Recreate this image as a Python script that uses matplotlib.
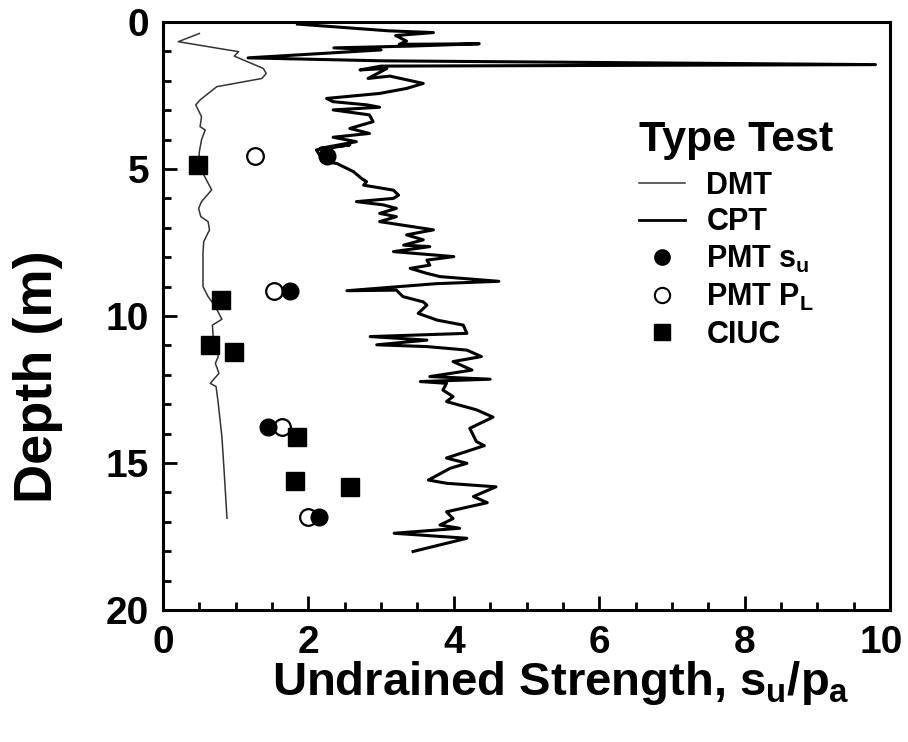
import matplotlib
matplotlib.use("Agg")
import matplotlib.pyplot as plt
import matplotlib.transforms as mtransforms
from matplotlib.lines import Line2D

plt.rcParams['font.family'] = ['Liberation Sans', 'DejaVu Sans']
plt.rcParams['font.weight'] = 'bold'
plt.rcParams['mathtext.fontset'] = 'custom'
plt.rcParams['mathtext.rm'] = 'Liberation Sans:bold'
plt.rcParams['mathtext.it'] = 'Liberation Sans:bold'
plt.rcParams['mathtext.bf'] = 'Liberation Sans:bold'

# ---- data ----
dmt_su = [0.50, 0.21, 1.04, 0.98, 1.38, 1.42, 1.36, 0.74, 0.51, 0.45, 0.53, 0.51, 0.58, 0.53,
          0.50, 0.49, 0.55, 0.67, 0.53, 0.49, 0.52, 0.62, 0.64, 0.56, 0.55, 0.55, 0.62, 0.72,
          0.81, 0.68, 0.69, 0.76, 0.72, 0.77, 0.65, 0.73, 0.76, 0.81, 0.84, 0.88]
dmt_depth = [0.39, 0.67, 1.01, 1.16, 1.58, 1.75, 1.92, 2.20, 2.65, 2.82, 3.22, 3.56, 3.67, 4.01,
             4.41, 4.81, 5.15, 5.71, 6.11, 6.34, 6.62, 6.79, 7.07, 7.47, 7.87, 9.00, 9.34, 9.68,
             10.11, 10.31, 10.70, 11.38, 11.61, 11.95, 12.29, 12.40, 12.97, 14.10, 15.24, 16.88]

cpt_su = [1.85, 3.10, 3.72, 3.20, 3.35, 3.25, 4.35, 3.40, 2.35, 3.00, 1.17, 3.00, 9.80, 3.00,
          2.71, 3.08, 2.82, 3.12, 3.58, 3.35, 2.98, 2.25, 2.34, 2.81, 2.98, 2.34, 2.84, 2.89,
          2.57, 2.84, 2.34, 2.66, 2.16, 2.57, 2.11, 2.21, 2.39, 2.62, 2.73, 2.80, 2.76, 3.17,
          3.24, 3.17, 2.66, 3.03, 3.21, 2.98, 3.21, 2.98, 3.72, 3.35, 3.58, 3.31, 3.67, 3.17,
          4.00, 3.63, 3.67, 3.40, 3.63, 3.81, 4.62, 3.76, 2.53, 3.21, 3.30, 3.58, 3.63, 3.51,
          3.77, 4.13, 4.18, 2.85, 3.63, 2.94, 3.63, 4.18, 4.38, 3.99, 4.25, 3.67, 4.50, 3.54,
          3.90, 3.85, 3.99, 3.90, 4.31, 4.54, 4.22, 4.31, 4.42, 3.90, 4.18, 3.95, 3.65, 3.90,
          4.58, 4.27, 4.46, 3.90, 3.99, 3.81, 4.08, 3.18, 4.18, 3.44]
cpt_depth = [0.07, 0.30, 0.36, 0.46, 0.65, 0.76, 0.74, 0.82, 0.88, 0.95, 1.22, 1.32, 1.45, 1.50,
             1.63, 1.58, 1.92, 1.84, 2.09, 2.26, 2.43, 2.60, 2.71, 2.82, 2.90, 2.99, 3.16, 3.39,
             3.62, 3.79, 3.92, 4.07, 4.30, 4.18, 4.35, 4.75, 4.81, 5.09, 5.32, 5.43, 5.55, 5.72,
             5.89, 6.00, 6.11, 6.22, 6.34, 6.51, 6.62, 6.79, 7.07, 7.24, 7.41, 7.59, 7.64, 7.81,
             7.98, 8.10, 8.27, 8.38, 8.55, 8.66, 8.82, 8.90, 9.14, 9.12, 9.34, 9.52, 9.63, 9.91,
             10.14, 10.31, 10.59, 10.70, 10.82, 10.98, 11.04, 11.16, 11.38, 11.55, 11.84, 12.06, 12.15, 12.23,
             12.29, 12.52, 12.74, 12.91, 13.19, 13.44, 13.82, 14.27, 14.41, 14.83, 15.01, 15.18, 15.58, 15.69,
             15.81, 16.14, 16.35, 16.66, 16.89, 17.11, 17.22, 17.39, 17.56, 18.01]

pmt_su_val = [2.25, 1.75, 1.44, 2.14]
pmt_su_depth = [4.55, 9.15, 13.77, 16.83]
pmt_pl_val = [1.27, 1.53, 1.64, 2.00]
pmt_pl_depth = [4.55, 9.15, 13.77, 16.83]
ciuc_val = [0.48, 0.80, 0.65, 0.97, 1.84, 1.81, 2.57]
ciuc_depth = [4.86, 9.46, 10.98, 11.24, 14.10, 15.60, 15.80]

xticks = [0, 2, 4, 6, 8, 10]
yticks = [0, 5, 10, 15, 20]

fig = plt.figure(figsize=(9.08, 7.42), dpi=100)
ax = fig.add_axes([163/908, 1-610/742, 727/908, 588/742])

l_dmt, = ax.plot(dmt_su, dmt_depth, color='#333333', lw=1.1, label='DMT')
l_cpt, = ax.plot(cpt_su, cpt_depth, color='black', lw=2.2, label='CPT')
l_pl, = ax.plot(pmt_pl_val, pmt_pl_depth, 'o', ms=12, mfc='white', mec='black', mew=1.6,
                ls='none', label='PMT $P_L$', zorder=4)
l_su, = ax.plot(pmt_su_val, pmt_su_depth, 'o', ms=12, mfc='black', mec='black',
                ls='none', label='PMT $s_u$', zorder=5)
l_ci, = ax.plot(ciuc_val, ciuc_depth, 's', ms=13, mfc='black', mec='black',
                ls='none', label='CIUC', zorder=5)

ax.set_xlim(0, 10)
ax.set_ylim(20, 0)
ax.set_xticks(xticks)
ax.set_yticks(yticks)
ax.set_xticks([x * 0.5 for x in range(21)], minor=True)
ax.set_yticks(list(range(21)), minor=True)
ax.tick_params(which='both', direction='in', top=False, right=False, width=2,
               labelsize=28)
ax.tick_params(which='major', length=10)
ax.tick_params(which='minor', length=6)
ax.tick_params(axis='y', pad=10)
ax.tick_params(axis='x', pad=11)
for s in ax.spines.values():
    s.set_linewidth(2.2)

fig.canvas.draw()
xlabs = ax.get_xticklabels()
for lab in xlabs + ax.get_yticklabels():
    lab.set_fontweight('bold')
# nudge the last x tick label so it stays inside the figure
shift = mtransforms.ScaledTranslation(-9/100, 0, fig.dpi_scale_trans)
xlabs[-1].set_transform(xlabs[-1].get_transform() + shift)

fig.text(272/908, 1-695/742, 'Undrained Strength, $s_u$/$p_a$', fontsize=34,
         fontweight='bold', ha='left', va='baseline')
fig.text(38/908, 1-377/742, 'Depth (m)', fontsize=39, fontweight='bold',
         rotation=90, ha='center', va='center')

# legend
handles = [Line2D([], [], color='#333333', lw=1.1),
           Line2D([], [], color='black', lw=2.0),
           Line2D([], [], marker='o', ms=11, mfc='black', mec='black', ls='none'),
           Line2D([], [], marker='o', ms=11, mfc='white', mec='black', mew=1.5, ls='none'),
           Line2D([], [], marker='s', ms=11, mfc='black', mec='black', ls='none')]
labels = ['DMT', 'CPT', 'PMT $s_u$', 'PMT $P_L$', 'CIUC']
leg = ax.legend(handles, labels, title='Type Test', frameon=False,
                loc='upper left', bbox_to_anchor=(0.634, 0.86),
                fontsize=22, title_fontproperties={'size': 31, 'weight': 'bold'},
                handlelength=1.5, handletextpad=0.7, labelspacing=0.22,
                borderpad=0, alignment='left')
leg._legend_box.sep = 8
for t in leg.get_texts():
    t.set_fontweight('bold')

fig.savefig('out.png', dpi=100)
